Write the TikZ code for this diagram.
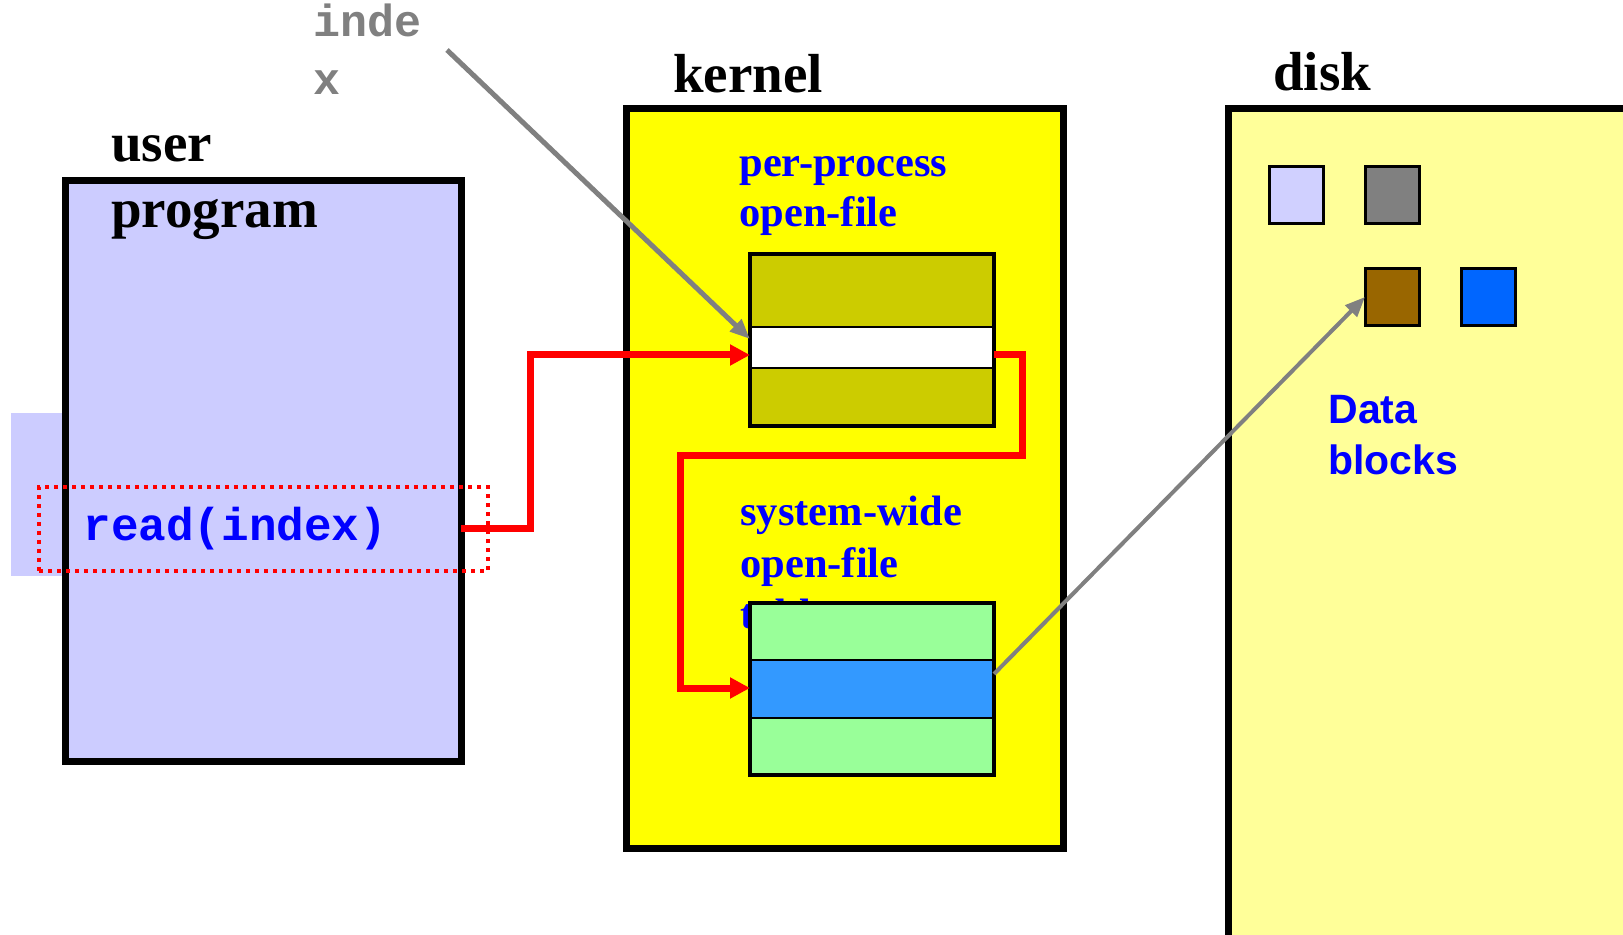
\documentclass[tikz,border=0pt]{standalone}
\usepackage{fontspec}
\setmainfont{Liberation Serif}
\setmonofont{Liberation Mono}
\newfontfamily\labelsans{Liberation Sans}
\usetikzlibrary{arrows.meta}

\definecolor{lav}{HTML}{CCCCFF}
\definecolor{lavsq}{HTML}{D0D0FF}
\definecolor{kyellow}{HTML}{FFFF00}
\definecolor{dyellow}{HTML}{FFFF99}
\definecolor{olive}{HTML}{CCCC00}
\definecolor{mint}{HTML}{99FF99}
\definecolor{rowblue}{HTML}{3399FF}
\definecolor{brownsq}{HTML}{996600}
\definecolor{bluesq}{HTML}{0066FF}
\definecolor{txtblue}{HTML}{0000FF}
\definecolor{midgray}{HTML}{808080}

\begin{document}
\begin{tikzpicture}[x=0.5pt,y=-0.5pt,
  box/.style={draw=black, line width=3.5pt, inner sep=0pt, outer sep=0pt, anchor=north west},
  row/.style={draw=black, line width=1pt, inner sep=0pt, outer sep=0pt, anchor=north west, minimum width=122pt},
  frame/.style={draw=black, line width=2pt, inner sep=0pt, outer sep=0pt, anchor=north west, minimum width=122pt, minimum height=86pt},
  blk/.style={draw=black, line width=1.5pt, inner sep=0pt, outer sep=0pt, minimum width=27pt, minimum height=28.5pt},
  title/.style={font=\fontsize{27.5}{33}\selectfont\bfseries, anchor=base west, inner sep=0pt},
  bluelbl/.style={font=\fontsize{21.25}{25}\selectfont\bfseries, text=txtblue, anchor=base west, inner sep=0pt},
  sanslbl/.style={font=\labelsans\fontsize{20.5}{25}\selectfont\bfseries, text=txtblue, anchor=base west, inner sep=0pt},
  monolbl/.style={font=\ttfamily\fontsize{22.5}{27}\selectfont\bfseries, anchor=base west, inner sep=0pt},
  redpath/.style={draw=red, line width=3.5pt, -{Triangle[length=10pt,width=10pt]}},
  graypath/.style={draw=midgray, line width=#1, -{Triangle[length=10pt,width=8pt]}},
]
\useasboundingbox (0,0) rectangle (1623,935);
\clip (0,0) rectangle (1623,935);

% ---------- user program ----------
\node[fill=lav, inner sep=0pt, outer sep=0pt, anchor=north west,
      minimum width=26.5pt, minimum height=81.5pt] (tab) at (11,413) {};
\node[box, fill=lav, minimum width=198pt, minimum height=290pt] (usr) at (65,181) {};
\node[title] (usr1) at (111,162) {user};
\node[title] (usr2) at (111,228) {program};
\node[draw=red, line width=2pt, dash pattern=on 2pt off 2.5pt, inner sep=0pt, outer sep=0pt,
      anchor=north west, minimum width=224.5pt, minimum height=42pt] (call) at (39,487) {};
\node[monolbl, text=txtblue, font=\ttfamily\fontsize{23}{27}\selectfont\bfseries] (rd) at (83,540) {read(index)};

% ---------- index label ----------
\node[monolbl, text=midgray] (idx1) at (313,37) {inde};
\node[monolbl, text=midgray] (idx2) at (313,95) {x};

% ---------- kernel ----------
\node[title] (kl) at (673,93) {kernel};
\node[box, fill=kyellow, minimum width=218.5pt, minimum height=370pt] (kern) at (626,108.5) {};
\node[bluelbl] (pp1) at (739,177) {per-process};
\node[bluelbl] (pp2) at (739,227) {open-file};
\node[bluelbl] (sw1) at (740,526) {system-wide};
\node[bluelbl] (sw2) at (740,577) {open-file};
\node[bluelbl] (sw3) at (740,628) {table};

% per-process open-file table
\node[row, fill=olive, minimum height=36.5pt] (ppA) at (750,254) {};
\node[row, fill=white, minimum height=20.5pt] (ppB) at (750,327) {};
\node[row, fill=olive, minimum height=29pt] (ppC) at (750,368) {};
\node[frame] (pp) at (750,254) {};

% system-wide open-file table
\node[row, fill=mint, minimum height=28.5pt] (swA) at (750,603) {};
\node[row, fill=rowblue, minimum height=29pt] (swB) at (750,660) {};
\node[row, fill=mint, minimum height=28.5pt] (swC) at (750,718) {};
\node[frame] (sw) at (750,603) {};

% ---------- disk ----------
\node[title] (dl) at (1273,91) {disk};
\node[box, fill=dyellow, minimum width=198.75pt, minimum height=414.75pt] (disk) at (1228.5,108.5) {};
\node[blk, fill=lavsq] (b1) at (1296.5,195) {};
\node[blk, fill=midgray] (b2) at (1392,195) {};
\node[blk, fill=brownsq] (b3) at (1392,297) {};
\node[blk, fill=bluesq] (b4) at (1488,297) {};
\node[sanslbl] (db1) at (1328,424) {Data};
\node[sanslbl] (db2) at (1328,475) {blocks};

% ---------- connectors ----------
\coordinate (r1s) at (461,529);
\draw[redpath] (r1s) -- (530,529) |- ([yshift=-3.75pt]ppB.west);
\draw[redpath] ([yshift=-3.75pt]ppB.east) -| (1022,456) -- (680,456) |- ([yshift=0.5pt]swB.west);

\coordinate (g1s) at (447,50);
\draw[graypath=2.5pt] (g1s) -- ([yshift=4.25pt]ppB.west);
\draw[graypath=2pt] ([yshift=7.5pt]swB.east) -- (b3.west);
\end{tikzpicture}
\end{document}
